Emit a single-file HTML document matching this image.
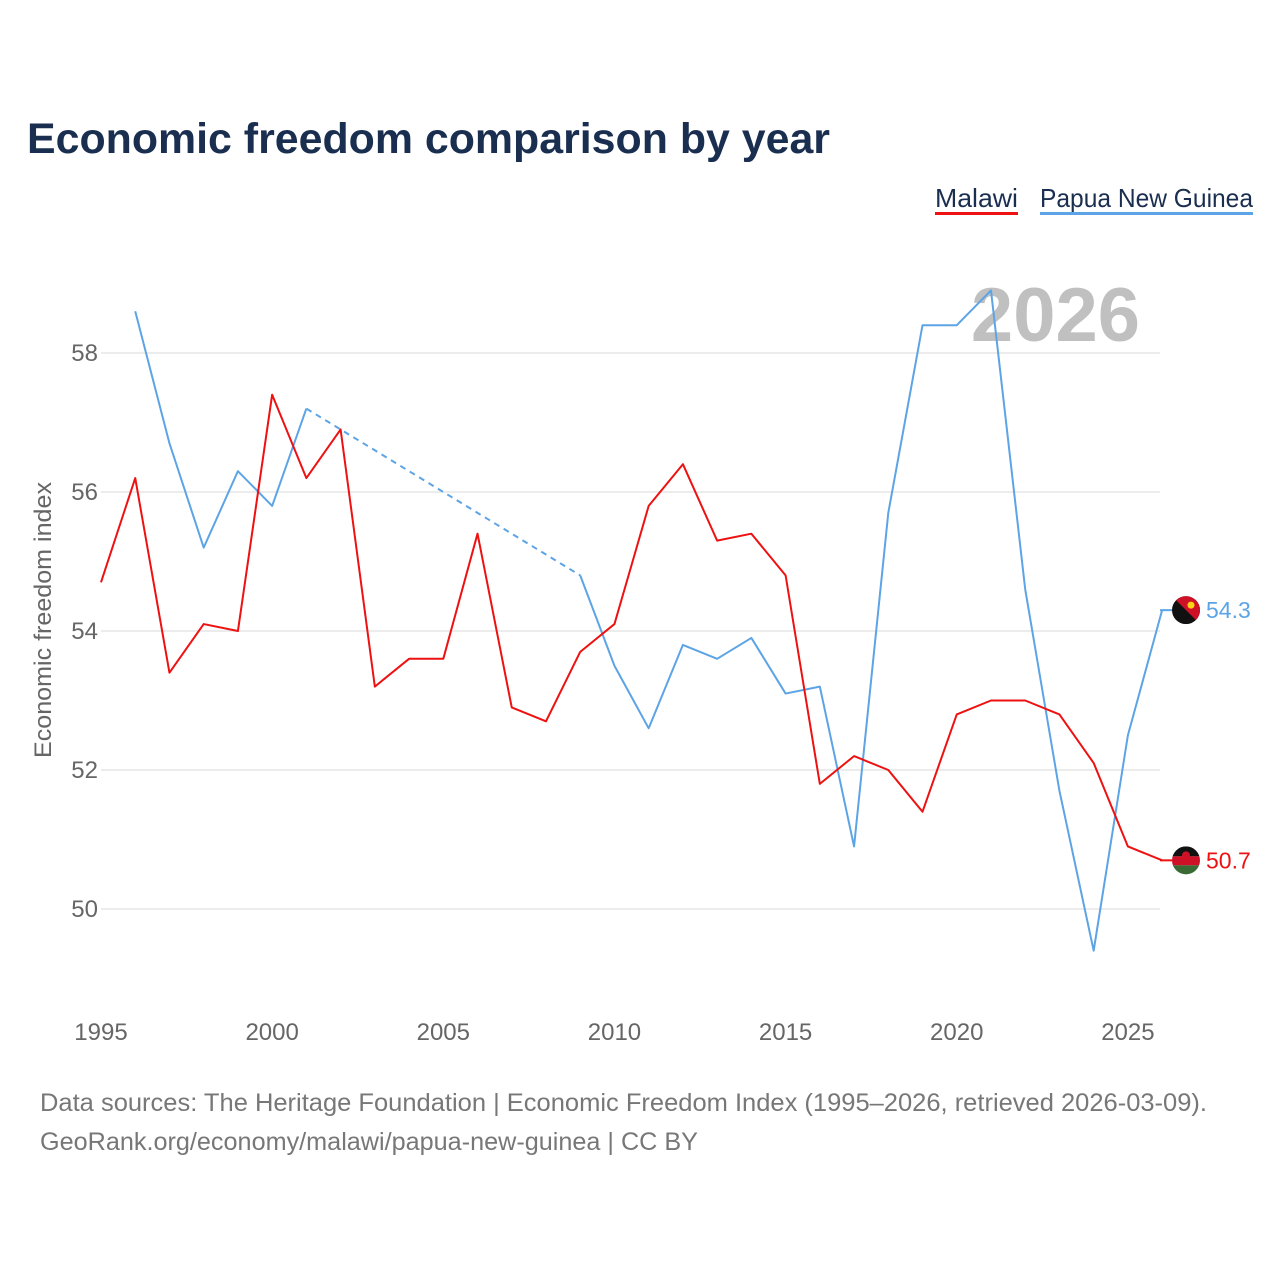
<!DOCTYPE html>
<html><head><meta charset="utf-8"><style>
body{margin:0;background:#fff;font-family:"Liberation Sans",sans-serif;}
svg text{font-family:"Liberation Sans",sans-serif;}
</style></head><body>
<svg width="1280" height="1280" viewBox="0 0 1280 1280">
<text x="27" y="153" font-size="43" font-weight="bold" fill="#1a2e50" textLength="803" lengthAdjust="spacingAndGlyphs">Economic freedom comparison by year</text>
<g>
<text x="935" y="207" font-size="26" fill="#1a2e50" textLength="83" lengthAdjust="spacingAndGlyphs">Malawi</text>
<rect x="935" y="212" width="83" height="3" fill="#ee1111"/>
<text x="1040" y="207" font-size="26" fill="#1a2e50" textLength="213" lengthAdjust="spacingAndGlyphs">Papua New Guinea</text>
<rect x="1040" y="212" width="213" height="3" fill="#5ca4e6"/>
</g>
<text x="1140" y="341" font-size="76" font-weight="bold" fill="#c0c0c0" text-anchor="end">2026</text>
<text transform="translate(51,620) rotate(-90)" font-size="24" fill="#666" text-anchor="middle" textLength="276" lengthAdjust="spacingAndGlyphs">Economic freedom index</text>
<g id="grid"></g><g id="lines"></g><g id="ends"></g>
<g font-size="25" fill="#777">
<text x="40" y="1111" textLength="1167" lengthAdjust="spacingAndGlyphs">Data sources: The Heritage Foundation | Economic Freedom Index (1995–2026, retrieved 2026-03-09).</text>
<text x="40" y="1150" textLength="658" lengthAdjust="spacingAndGlyphs">GeoRank.org/economy/malawi/papua-new-guinea | CC BY</text>
</g>
</svg>
<script>
const years=[1995,1996,1997,1998,1999,2000,2001,2002,2003,2004,2005,2006,2007,2008,2009,2010,2011,2012,2013,2014,2015,2016,2017,2018,2019,2020,2021,2022,2023,2024,2025,2026];
const malawi=[54.7,56.2,53.4,54.1,54.0,57.4,56.2,56.9,53.2,53.6,53.6,55.4,52.9,52.7,53.7,54.1,55.8,56.4,55.3,55.4,54.8,51.8,52.2,52.0,51.4,52.8,53.0,53.0,52.8,52.1,50.9,50.7];
const png=[null,58.6,56.7,55.2,56.3,55.8,57.2,null,null,null,null,null,null,null,54.8,53.5,52.6,53.8,53.6,53.9,53.1,53.2,50.9,55.7,58.4,58.4,58.9,54.6,51.7,49.4,52.5,54.3];
const yTicks=[50,52,54,56,58];
const xTicks=[1995,2000,2005,2010,2015,2020,2025];
const NS='http://www.w3.org/2000/svg';
const X=y=>101+(y-1995)*34.23;
const Y=v=>909-(v-50)*69.5;
function mk(t,a,p){const e=document.createElementNS(NS,t);for(const k in a)e.setAttribute(k,a[k]);p.appendChild(e);return e;}
const grid=document.getElementById('grid');
yTicks.forEach(t=>{
 const l=mk('line',{x1:101,x2:1160,y1:Y(t),y2:Y(t),stroke:'#e6e6e6','stroke-width':1.5},grid);
 
 
 const tx=mk('text',{x:98,y:Y(t)+8,'font-size':24,fill:'#666','text-anchor':'end'},grid);tx.textContent=t;
 
 
});
xTicks.forEach(t=>{
 const tx=mk('text',{x:X(t),y:1040,'font-size':24,fill:'#666','text-anchor':'middle'},grid);tx.textContent=t;
 
 
});
const lines=document.getElementById('lines');
function draw(vals,color,name){
 let seg=[];
 const segs=[];
 vals.forEach((v,i)=>{
  if(v==null){if(seg.length)segs.push(seg);seg=[];return;}
  seg.push([X(years[i]),Y(v)]);
 });
 if(seg.length)segs.push(seg);
 for(let s=0;s<segs.length;s++){
  if(s>0){const a=segs[s-1][segs[s-1].length-1],b=segs[s][0];
   const d=mk('line',{x1:a[0],y1:a[1],x2:b[0],y2:b[1],stroke:color,'stroke-width':2,'stroke-dasharray':'6,5'},lines);
   
   }
  const p=mk('polyline',{points:segs[s].map(q=>q.join(',')).join(' '),fill:'none',stroke:color,'stroke-width':2,'stroke-linejoin':'round'},lines);
  
  
 }
}
draw(png,'#5ca4e6','png');
draw(malawi,'#ee1111','malawi');
const ends=document.getElementById('ends');
function end(v,color,name,flag){
 const y=Y(v);
 mk('line',{x1:1160,x2:1172,y1:y,y2:y,stroke:color,'stroke-width':2},ends);
 const g=mk('g',{},ends);
 
 
 const cx=1186;
 if(flag==='mw'){
  mk('clipPath',{id:'cm'},g);
  const cp=g.lastChild;mk('circle',{cx:cx,cy:y,r:14},cp);
  const gg=mk('g',{'clip-path':'url(#cm)'},g);
  mk('rect',{x:cx-14,y:y-14,width:28,height:10,fill:'#111'},gg);
  mk('rect',{x:cx-14,y:y-4,width:28,height:9,fill:'#ce1126'},gg);
  mk('rect',{x:cx-14,y:y+5,width:28,height:10,fill:'#3a6b35'},gg);
  mk('circle',{cx:cx,cy:y-5,r:4,fill:'#ce1126'},gg);
 } else {
  mk('clipPath',{id:'cp'},g);
  const cp=g.lastChild;mk('circle',{cx:cx,cy:y,r:14},cp);
  const gg=mk('g',{'clip-path':'url(#cp)'},g);
  mk('rect',{x:cx-14,y:y-14,width:28,height:28,fill:'#111'},gg);
  mk('polygon',{points:`${cx-14},${y-14} ${cx+14},${y-14} ${cx+14},${y+14}`,fill:'#ce1126'},gg);
  mk('circle',{cx:cx+5,cy:y-5,r:3.5,fill:'#fcd116'},gg);
 }
 const t=mk('text',{x:1206,y:y+8,'font-size':23,fill:color},ends);t.textContent=v;
 
 
}
end(png[png.length-1],'#5ca4e6','png','pg');
end(malawi[malawi.length-1],'#ee1111','malawi','mw');
</script>
</body></html>
